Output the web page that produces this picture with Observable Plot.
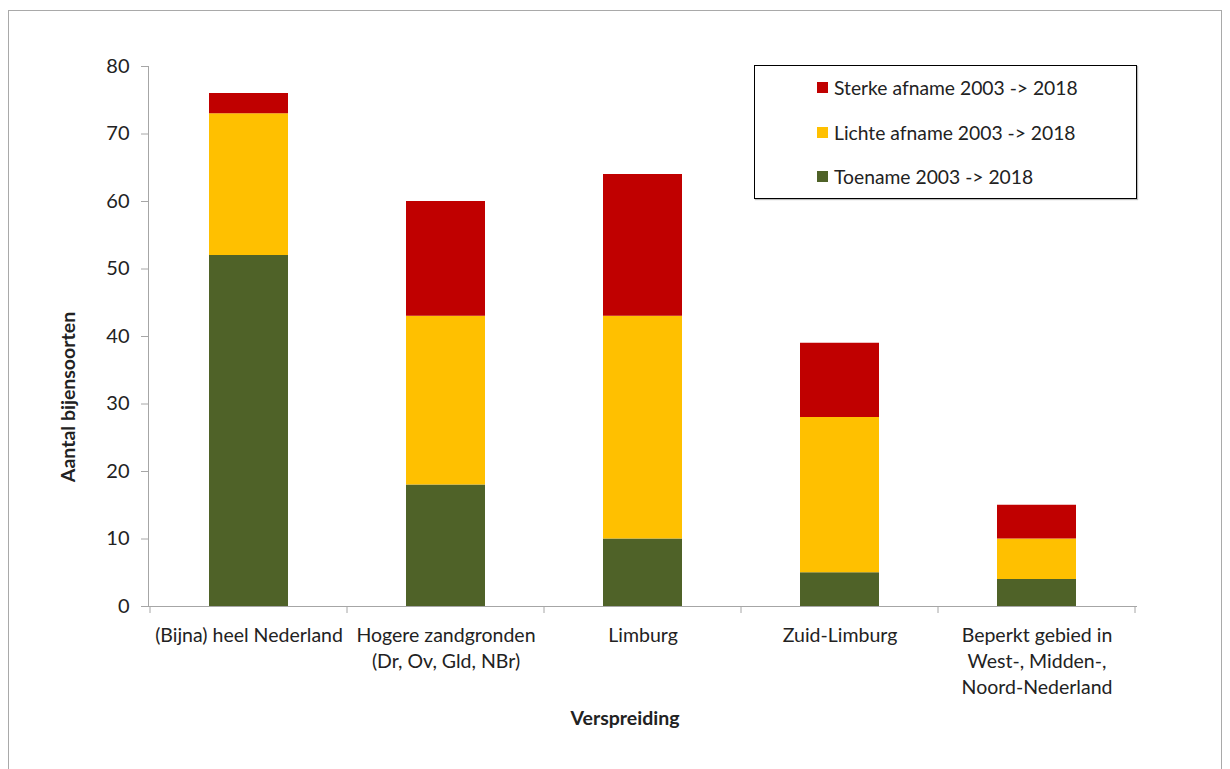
<!DOCTYPE html>
<html>
<head>
<meta charset="utf-8">
<script src="https://cdn.jsdelivr.net/npm/d3@7"></script>
<script src="https://cdn.jsdelivr.net/npm/@observablehq/plot@0.6"></script>
<style>
  html, body { margin: 0; padding: 0; background: #fff; overflow: hidden; }
  body { width: 1230px; height: 769px; position: relative; font-family: Lato, "Open Sans", sans-serif; }
  #frame { position: absolute; left: 8px; top: 10px; width: 1214px; height: 800px; border: 1px solid #a9a9a9; box-sizing: border-box; }
  #chart { position: absolute; left: 0; top: 0; }
  #legend { position: absolute; left: 754px; top: 65px; width: 383px; height: 134px; border: 1px solid #000; box-sizing: border-box; background: #fff; box-shadow: 1px 1px 1px #bbb; }
  .item { position: absolute; left: 62px; font-size: 19.3px; color: #222; display: flex; align-items: center; white-space: nowrap; }
  .sw { width: 11px; height: 11px; margin-right: 6px; display: inline-block; }
</style>
</head>
<body>
<div id="frame"></div>
<div id="chart"></div>
<div id="legend"></div>
<script>
const categories = [
  "(Bijna) heel Nederland",
  "Hogere zandgronden\n(Dr, Ov, Gld, NBr)",
  "Limburg",
  "Zuid-Limburg",
  "Beperkt gebied in\nWest-, Midden-,\nNoord-Nederland"
];
const seriesNames = ["Toename 2003 -> 2018", "Lichte afname 2003 -> 2018", "Sterke afname 2003 -> 2018"];
const toename = [52, 18, 10, 5, 4];
const lichteAfname = [21, 25, 33, 23, 6];
const sterkeAfname = [3, 17, 21, 11, 5];
const yTicks = [0, 10, 20, 30, 40, 50, 60, 70, 80];
const colors = ["#4f6228", "#ffc000", "#c00000"];

const seriesValues = [toename, lichteAfname, sterkeAfname];
const rows = [];
seriesNames.forEach((s, si) => {
  categories.forEach((c, ci) => rows.push({cat: c, series: s, order: si, value: seriesValues[si][ci]}));
});

const W = 1230, H = 769;
const mL = 148, mR = 94, mT = 66, mB = 163;

const chart = Plot.plot({
  width: W,
  height: H,
  marginLeft: mL,
  marginRight: mR,
  marginTop: mT,
  marginBottom: mB,
  style: {fontFamily: "Lato, 'Open Sans', sans-serif", background: "transparent", color: "#222", fontSize: "19px"},
  x: {domain: categories, paddingInner: 0.6, paddingOuter: 0.3, label: null},
  y: {domain: [0, 80], ticks: yTicks, label: null},
  color: {domain: seriesNames, range: colors},
  marks: [
    Plot.gridY(yTicks, {stroke: "#a6a6a6", strokeOpacity: 1, strokeWidth: 1, x1: mL - 7}),
    Plot.barY(rows, Plot.stackY({x: "cat", y: "value", fill: "series", order: "order"})),
    Plot.axisY(yTicks, {tickSize: 7, tickPadding: 12, fontSize: 20, stroke: "#a6a6a6", textStroke: "none", label: null}),
    Plot.axisX({tickSize: 0, tickPadding: 17, fontSize: 19.5, lineHeight: 1.33, label: null}),
    Plot.frame({anchor: "left", stroke: "#a6a6a6"}),
    Plot.frame({anchor: "bottom", stroke: "#a6a6a6"})
  ]
});
document.getElementById("chart").appendChild(chart);

// category boundary ticks under the x axis, derived from the band scale
const xs = chart.scale("x");
const svg = d3.select(chart);
const step = xs.step;
const halfGap = (step - xs.bandwidth) / 2;
const bounds = categories.map(c => xs.apply(c) - halfGap).concat([xs.apply(categories[categories.length - 1]) + xs.bandwidth + halfGap]);
svg.append("g").selectAll("line").data(bounds).join("line")
  .attr("x1", d => d).attr("x2", d => d)
  .attr("y1", H - mB).attr("y2", H - mB + 7)
  .attr("stroke", "#a6a6a6");

// axis titles
svg.append("text")
  .attr("transform", `translate(75, 397) rotate(-90)`)
  .attr("text-anchor", "middle")
  .attr("font-weight", "bold")
  .attr("font-size", 19.5)
  .attr("fill", "#222")
  .text("Aantal bijensoorten");
svg.append("text")
  .attr("x", 625).attr("y", 725)
  .attr("text-anchor", "middle")
  .attr("font-weight", "bold")
  .attr("font-size", 19.5)
  .attr("fill", "#222")
  .text("Verspreiding");

// legend
const legend = document.getElementById("legend");
const legendOrder = [2, 1, 0];
legendOrder.forEach((si, i) => {
  const d = document.createElement("div");
  d.className = "item";
  d.style.top = (10 + i * 44.5) + "px";
  d.innerHTML = `<span class="sw" style="background:${colors[si]}"></span>`;
  d.appendChild(document.createTextNode(seriesNames[si]));
  legend.appendChild(d);
});
</script>
</body>
</html>
